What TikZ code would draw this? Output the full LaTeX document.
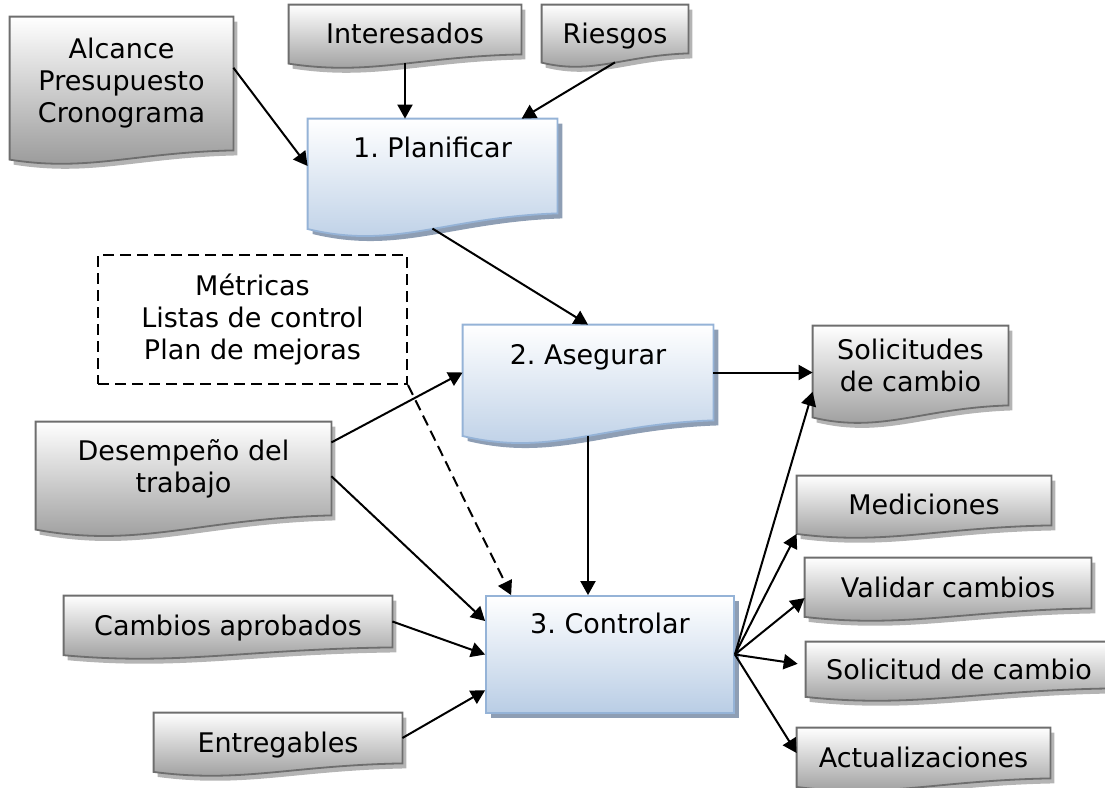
\documentclass[tikz,border=0pt]{standalone}
\usepackage{fontspec}
\setmainfont{DejaVu Sans}
\usetikzlibrary{arrows.meta,calc,shadows,backgrounds}
\definecolor{grisbot}{HTML}{969696}
\definecolor{grisline}{HTML}{6E6E6E}
\definecolor{grissomb}{HTML}{B4B4B4}
\definecolor{azulbot}{HTML}{B9CDE5}
\definecolor{azulline}{HTML}{95B3D7}
\definecolor{azulsomb}{HTML}{8E9EB4}

% hoja con borde inferior ondulado: nodo, estilo, profundidad de la onda
\newcommand{\wavedoc}[3]{%
  \edef\hoja{#1}%
  \path[#2] let \p1=(\hoja.north west), \p2=(\hoja.south east), \n1={\x2-\x1} in
    (\p1) -- (\x2,\y1) -- (\p2)
    .. controls (\x2-0.45*\n1,\y2-0.17*#3) and (\x1+0.35*\n1,\y2-1.67*#3) .. (\x1,\y2-0.71*#3) coordinate (\hoja-l) -- cycle;
  \path let \p2=(\hoja.south) in (\x2,\y2-0.69*#3) coordinate (\hoja-w);
}

\begin{document}
\frenchspacing
\begin{tikzpicture}[x=0.5pt,y=-0.5pt,font=\fontsize{13.5}{16}\selectfont,
    doc/.style={inner sep=0pt,align=center},
    sz/.style 2 args={minimum width=#1*0.5pt,minimum height=#2*0.5pt},
    gtext/.style={text height=14.3pt,text depth=0pt},
    grisfill/.style={top color=white,bottom color=grisbot,draw=grisline,line width=0.9pt,
      drop shadow={shadow xshift=2pt,shadow yshift=-2.5pt,fill=grissomb,opacity=1}},
    azulfill/.style={top color=white,bottom color=azulbot,draw=azulline,line width=0.9pt,
      drop shadow={shadow xshift=2.5pt,shadow yshift=-2.5pt,fill=azulsomb,opacity=1}},
    flecha/.style={-{Triangle[length=7pt,width=7.5pt]},line width=1pt}]
  \useasboundingbox (0,0) rectangle (1105,788);

  % entradas
  \node[doc,sz={223}{133}] (alcance) at (121.5,83.5) {Alcance\\Presupuesto\\Cronograma};
  \node[doc,gtext,sz={232}{49}] (interesados) at (405,29.5) {Interesados};
  \node[doc,gtext,sz={146}{48}] (riesgos) at (615,29) {Riesgos};
  \node[doc,sz={309}{129},draw,dashed,dash pattern=on 5.5pt off 3pt,line width=1pt] (metricas) at (252.5,319.5) {Métricas\\Listas de control\\Plan de mejoras};
  \node[doc,sz={295}{93}] (desempeno) at (183.5,468.5) {Desempeño del\\trabajo};
  \node[doc,gtext,sz={328}{51}] (cambios) at (228,621.5) {Cambios aprobados};
  \node[doc,gtext,sz={248}{50}] (entregables) at (278,738) {Entregables};

  % procesos
  \node[doc,sz={249}{94},text height=10.3pt,text depth=18.5pt] (planificar) at (432.5,166) {1. Planificar};
  \node[doc,sz={250}{95},text height=10.3pt,text depth=18pt] (asegurar) at (588,372.5) {2. Asegurar};
  \node[doc,sz={248}{117},text height=10.3pt,text depth=31pt,azulfill] (controlar) at (610,654.5) {3. Controlar};

  % salidas
  \node[doc,sz={195}{79}] (solicitudes) at (910.5,365.5) {Solicitudes\\de cambio};
  \node[doc,gtext,sz={254}{49}] (mediciones) at (924,500.5) {Mediciones};
  \node[doc,gtext,sz={286}{50}] (validar) at (948,583) {Validar cambios};
  \node[doc,gtext,sz={306}{46}] (solicitud) at (959,665) {Solicitud de cambio};
  \node[doc,gtext,sz={253}{50}] (actualizaciones) at (923.5,753) {Actualizaciones};

  \begin{scope}[on background layer]
    \foreach \nombre/\prof in {alcance/6.5,interesados/6.5,riesgos/6.5,desempeno/10,cambios/5.5,entregables/6,
        solicitudes/8.5,mediciones/6,validar/6,solicitud/6,actualizaciones/6}
      \wavedoc{\nombre}{grisfill}{\prof pt};
    \foreach \nombre in {planificar,asegurar}
      \wavedoc{\nombre}{azulfill}{11pt};
  \end{scope}

  \draw[flecha] (alcance.8) -- (planificar.west);
  \draw[flecha] (interesados-w) -- (interesados-w |- planificar.north);
  \draw[flecha] (riesgos-w) -- (planificar.28);
  \draw[flecha] (planificar-w) -- (asegurar.north);
  \draw[flecha,dash pattern=on 5.5pt off 3pt] (metricas.south east) -- (controlar.149);
  \draw[flecha] (desempeno.10) -- (asegurar.west);
  \draw[flecha] (desempeno.-3) -- (controlar.165);
  \draw[flecha] (cambios.east) -- (controlar.west);
  \draw[flecha] (entregables.east) -- (controlar.196);
  \draw[flecha] (asegurar-w) -- (asegurar-w |- controlar.north);
  \draw[flecha] (asegurar.east) -- (asegurar.east -| solicitudes.west);
  \foreach \dest in {solicitudes.195,mediciones-l,validar.186,actualizaciones.west}
    \draw[flecha] (controlar.east) -- (\dest);
  \draw[flecha,shorten >=4pt] (controlar.east) -- (solicitud.west);
\end{tikzpicture}
\end{document}
